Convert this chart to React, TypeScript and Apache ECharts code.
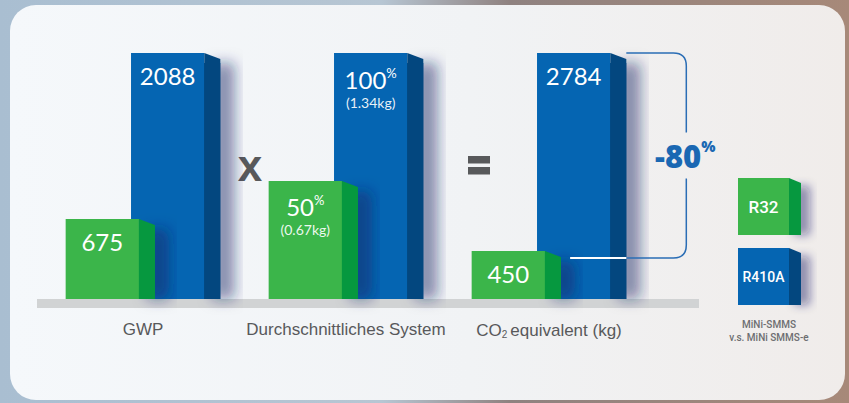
import React, { useEffect, useRef } from "react";
import * as echarts from "echarts";

// ---- data ----
const categories = ["GWP", "Durchschnittliches System", "CO2 equivalent (kg)"];
const seriesNames = ["R410A", "R32"];
// bar levels as drawn (R410A bars are the 100 reference level)
const r410aLevel = [100, 100, 100];
const r32Level = [32.5, 48, 19.5];
const r410aLabel = ["2088", "100", "2784"];
const r410aUnit = ["", "%", ""];
const r410aSub = ["", "(1.34kg)", ""];
const r32Label = ["675", "50", "450"];
const r32Unit = ["", "%", ""];
const r32Sub = ["", "(0.67kg)", ""];
const reductionValue = "-80";
const reductionUnit = "%";
const operatorX = "x";
const footnote = ["MiNi-SMMS", "v.s. MiNi SMMS-e"];

const BLUE = "#0565b2";
const BLUE_SIDE = "#03477f";
const GREEN = "#3bb54a";
const GREEN_SIDE = "#06983f";
const GREY_TEXT = "#58595b";
const NUM_FONT = "Lato, 'Open Sans', sans-serif";

function makeBarRender(
  labels: string[],
  units: string[],
  subs: string[],
  front: string,
  side: string,
  f0: number,
  f1: number
) {
  return (params: any, api: any) => {
    const idx = api.value(0);
    const val = api.value(1);
    const base = api.coord([idx, 0]);
    const topP = api.coord([idx, val]);
    const w = api.size([1, 0])[0];
    const xL = base[0] + f0 * w;
    const xR = base[0] + f1 * w;
    const yB = base[1];
    const yT = topP[1];
    const depth = 16;
    const slant = 6;
    const cx = (xL + xR) / 2;
    const i = params.dataIndex;
    const children: any[] = [
      {
        type: "rect",
        shape: { x: xR - 6, y: yT + slant + 4, width: depth + 6, height: yB - yT - slant - 4 },
        style: {
          fill: side,
          shadowBlur: 14,
          shadowColor: "rgba(20,30,100,0.5)",
          shadowOffsetX: 14,
          shadowOffsetY: 0,
        },
      },
      { type: "rect", shape: { x: xL, y: yT, width: xR - xL, height: yB - yT }, style: { fill: front } },
      {
        type: "polygon",
        shape: { points: [[xR, yT], [xR + depth, yT + slant], [xR + depth, yB], [xR, yB]] },
        style: { fill: side },
      },
    ];
    const unit = units[i];
    const txt = unit ? `{n|${labels[i]}}{p|${unit}}` : `{n|${labels[i]}}`;
    const hasSub = !!subs[i];
    children.push({
      type: "text",
      style: {
        text: txt,
        x: cx,
        y: yT + (hasSub ? 26 : 22),
        align: "center",
        verticalAlign: "middle",
        rich: {
          n: { fontSize: 24, fontFamily: NUM_FONT, fill: "#ffffff", lineHeight: 26 },
          p: { fontSize: 13, fontFamily: NUM_FONT, fill: "#ffffff", verticalAlign: "top", lineHeight: 14 },
        },
      },
    });
    if (hasSub) {
      children.push({
        type: "text",
        style: {
          text: subs[i],
          x: cx,
          y: yT + 49,
          align: "center",
          verticalAlign: "middle",
          fontSize: 14,
          fontFamily: NUM_FONT,
          fill: "rgba(255,255,255,0.92)",
        },
      });
    }
    return { type: "group", children };
  };
}

const BLUE_F0 = -0.059;
const BLUE_F1 = 0.302;
const GREEN_F0 = -0.381;
const GREEN_F1 = -0.02;

function renderBracket(params: any, api: any) {
  const idx = api.value(0);
  const hi = api.value(1);
  const lo = api.value(2);
  const base = api.coord([idx, 0]);
  const w = api.size([1, 0])[0];
  const yTop = api.coord([idx, hi])[1];
  const yBot = api.coord([idx, lo])[1] + 7;
  const x0 = base[0] + BLUE_F1 * w + 16;
  const xr = x0 + 60;
  const r = 13;
  const mid = (yTop + yBot) / 2;
  const gap = 23;
  const d =
    `M ${x0} ${yTop} L ${xr - r} ${yTop} Q ${xr} ${yTop} ${xr} ${yTop + r} L ${xr} ${mid - gap} ` +
    `M ${xr} ${mid + gap} L ${xr} ${yBot - r} Q ${xr} ${yBot} ${xr - r} ${yBot} L ${x0} ${yBot}`;
  return {
    type: "group",
    children: [
      {
        type: "path",
        shape: { pathData: d },
        style: { stroke: "#2a6db5", lineWidth: 1.5, fill: null },
      },
      {
        type: "line",
        shape: { x1: base[0] + 0.104 * w, y1: yBot, x2: x0, y2: yBot },
        style: { stroke: "#ffffff", lineWidth: 2 },
      },
      {
        type: "text",
        style: {
          text: `{a|${reductionValue}}{b|${reductionUnit}}`,
          x: xr - 1,
          y: mid,
          align: "center",
          verticalAlign: "middle",
          rich: {
            a: { fontSize: 31, fontWeight: 800, fontFamily: "'Open Sans', Roboto, sans-serif", fill: "#1a68b3", lineHeight: 34 },
            b: { fontSize: 15, fontWeight: 800, fontFamily: "'Open Sans', Roboto, sans-serif", fill: "#1a68b3", verticalAlign: "top", lineHeight: 16 },
          },
        },
      },
    ],
  };
}

function legendBox(x: number, y: number, front: string, side: string, label: string, fs: number) {
  const w = 51;
  const h = 57;
  return {
    type: "group",
    children: [
      {
        type: "rect",
        shape: { x: x + w - 4, y: y + 8, width: 16, height: h - 8 },
        style: { fill: side, shadowBlur: 10, shadowColor: "rgba(20,30,100,0.45)", shadowOffsetX: 9, shadowOffsetY: 0 },
      },
      { type: "rect", shape: { x, y, width: w, height: h }, style: { fill: front } },
      {
        type: "polygon",
        shape: { points: [[x + w, y], [x + w + 12, y + 5], [x + w + 12, y + h], [x + w, y + h]] },
        style: { fill: side },
      },
      {
        type: "text",
        style: {
          text: label,
          x: x + w / 2,
          y: y + h / 2,
          align: "center",
          verticalAlign: "middle",
          fontSize: fs,
          fontWeight: 500,
          fontFamily: "Roboto, sans-serif",
          fill: "#ffffff",
        },
      },
    ],
  };
}

export default function App() {
  const ref = useRef<HTMLDivElement>(null);
  useEffect(() => {
    document.body.style.margin = "0";
    if (!ref.current) return;
    const chart = echarts.init(ref.current, null, { renderer: "svg" });
    const option: any = {
      animation: false,
      backgroundColor: "transparent",
      grid: { left: 41.5, right: 198.5, top: 53, bottom: 104, outerBoundsMode: "none" },
      xAxis: {
        type: "category",
        data: categories,
        axisLine: { show: false },
        axisTick: { show: false },
        splitLine: { show: false },
        axisLabel: {
          interval: 0,
          margin: 22,
          fontSize: 17,
          fontFamily: "'Liberation Sans', Arial, sans-serif",
          color: GREY_TEXT,
          formatter: (v: string) => v.replace("CO2 ", "CO{sub|2}"),
          rich: {
            sub: { fontSize: 10, color: GREY_TEXT, verticalAlign: "bottom", padding: [8, 3, 0, 0] },
          },
        },
      },
      yAxis: { type: "value", min: 0, max: 100, show: false, splitLine: { show: false } },
      graphic: [
        {
          type: "rect",
          z: -10,
          shape: { x: 10, y: 5, width: 835, height: 395, r: 26 },
          style: {
            fill: new echarts.graphic.LinearGradient(0, 0, 1, 0, [
              { offset: 0, color: "#f5f8fb" },
              { offset: 0.55, color: "#f1f3f5" },
              { offset: 1, color: "#f0ecea" },
            ]),
          },
        },
        {
          type: "rect",
          z: -5,
          shape: { x: 37, y: 299, width: 662, height: 9 },
          style: { fill: "#d1d3d4" },
        },
        {
          type: "text",
          style: {
            text: operatorX,
            x: 250,
            y: 165,
            align: "center",
            verticalAlign: "middle",
            fontSize: 44,
            fontWeight: "bold",
            fontFamily: "'Liberation Sans', Arial, sans-serif",
            fill: GREY_TEXT,
          },
        },
        { type: "rect", shape: { x: 468, y: 156, width: 22, height: 7.5 }, style: { fill: GREY_TEXT } },
        { type: "rect", shape: { x: 468, y: 167, width: 22, height: 7.5 }, style: { fill: GREY_TEXT } },
        legendBox(738, 178, GREEN, GREEN_SIDE, seriesNames[1], 17),
        legendBox(738, 248, BLUE, BLUE_SIDE, seriesNames[0], 14),
        {
          type: "text",
          style: {
            text: footnote.join("\n"),
            x: 769,
            y: 331,
            align: "center",
            verticalAlign: "middle",
            fontSize: 10,
            lineHeight: 13,
            fontWeight: 500,
            fontFamily: "Roboto, sans-serif",
            fill: "#6d6e71",
          },
        },
      ],
      series: [
        {
          name: seriesNames[0],
          type: "custom",
          z: 2,
          renderItem: makeBarRender(r410aLabel, r410aUnit, r410aSub, BLUE, BLUE_SIDE, BLUE_F0, BLUE_F1),
          data: categories.map((_, i) => [i, r410aLevel[i]]),
        },
        {
          name: seriesNames[1],
          type: "custom",
          z: 3,
          renderItem: makeBarRender(r32Label, r32Unit, r32Sub, GREEN, GREEN_SIDE, GREEN_F0, GREEN_F1),
          data: categories.map((_, i) => [i, r32Level[i]]),
        },
        {
          name: "reduction",
          type: "custom",
          z: 4,
          renderItem: renderBracket,
          data: [[2, r410aLevel[2], r32Level[2]]],
        },
      ],
    };
    chart.setOption(option);
    return () => chart.dispose();
  }, []);
  return (
    <div
      style={{
        width: 849,
        height: 403,
        background:
          "linear-gradient(90deg, #a9bed1 0%, #b7c6d3 45%, #8f8280 60%, #a78979 100%)",
      }}
    >
      <div ref={ref} style={{ width: 849, height: 403 }} />
    </div>
  );
}
